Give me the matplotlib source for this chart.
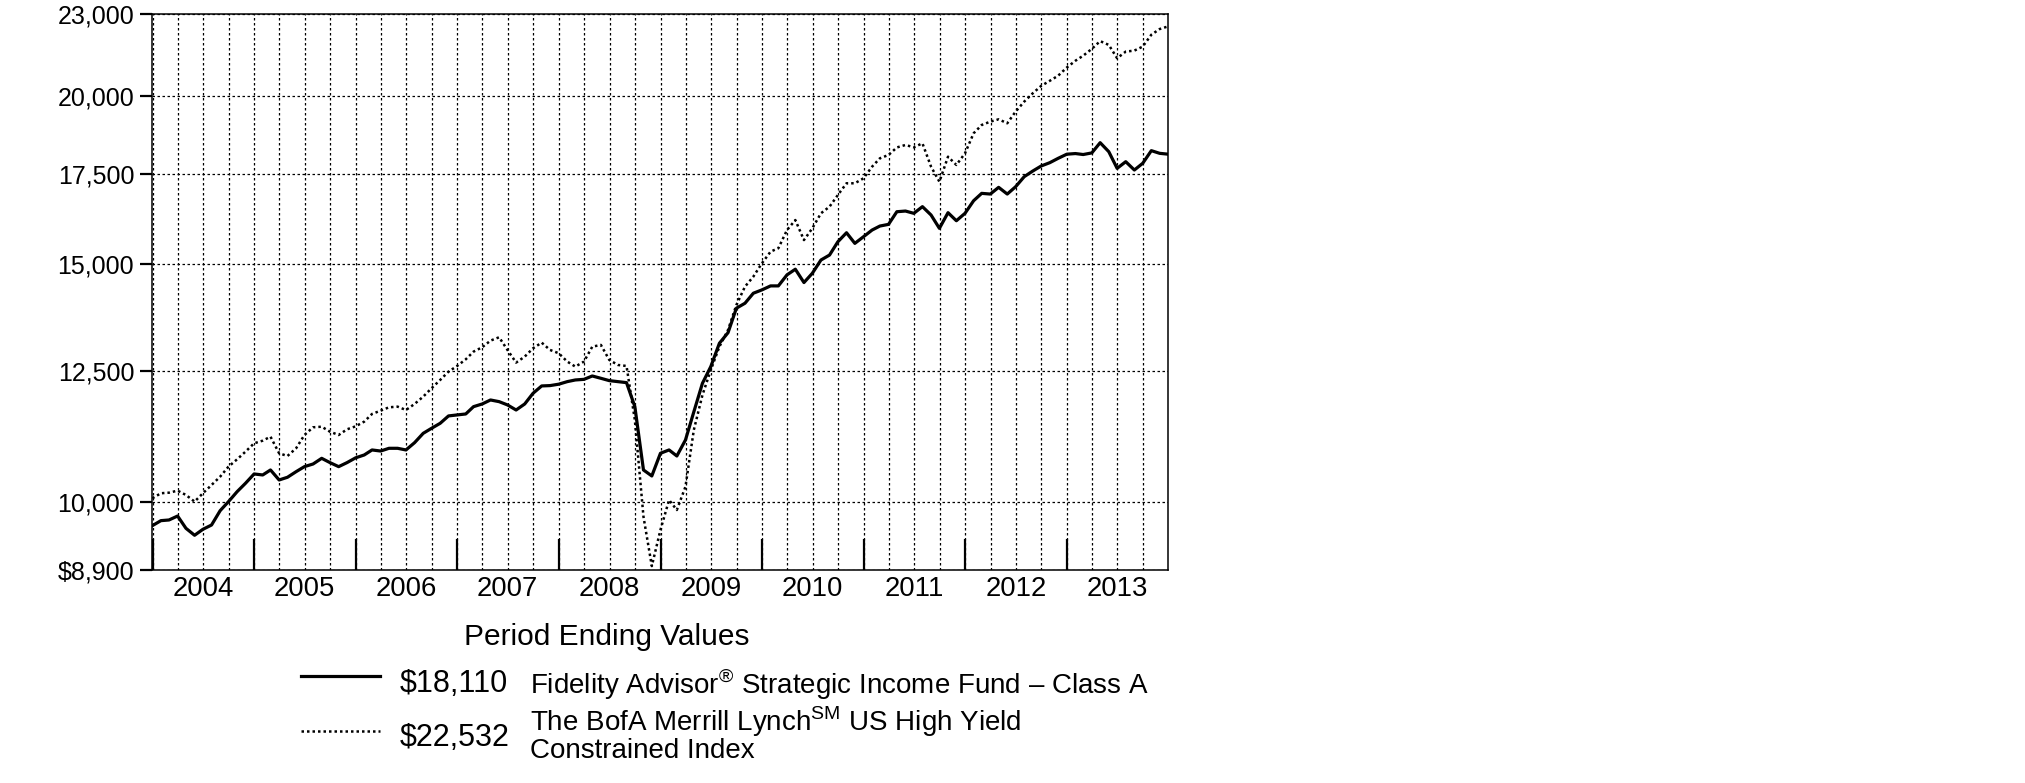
import matplotlib
matplotlib.use("Agg")
import matplotlib.pyplot as plt
import matplotlib.dates as mdates
from matplotlib.ticker import FixedLocator, FixedFormatter, NullLocator
from matplotlib.lines import Line2D
import pandas as pd
from datetime import datetime

plt.rcParams["font.family"] = ["Liberation Sans", "DejaVu Sans"]
plt.rcParams["mathtext.fontset"] = "custom"
plt.rcParams["mathtext.rm"] = "Liberation Sans"

# month-end values, Dec 2003 .. Dec 2013
fund = [9600, 9683, 9694, 9760, 9557, 9444, 9541, 9611, 9850, 10003, 10175, 10321,
        10487, 10469, 10559, 10380, 10428, 10528, 10619, 10667, 10771, 10692, 10619, 10692,
        10780, 10833, 10926, 10906, 10957, 10957, 10926, 11063, 11241, 11338, 11435, 11580,
        11600, 11619, 11765, 11819, 11900, 11866, 11800, 11698, 11819, 12037, 12189, 12196,
        12225, 12279, 12314, 12327, 12398, 12349, 12300, 12279, 12258, 11765, 10559, 10451,
        10864, 10926, 10814, 11114, 11660, 12244, 12598, 13111, 13350, 13920, 14039, 14281,
        14363, 14461, 14461, 14736, 14879, 14544, 14775, 15114, 15244, 15594, 15836, 15551,
        15728, 15909, 16018, 16064, 16415, 16434, 16370, 16558, 16323, 15955, 16388, 16164,
        16370, 16726, 16938, 16918, 17113, 16918, 17131, 17428, 17598, 17749, 17850, 17983,
        18110, 18130, 18100, 18150, 18470, 18188, 17678, 17880, 17627, 17831, 18220, 18137,
        18110]
index = [10060, 10147, 10157, 10192, 10117, 10003, 10147, 10291, 10439, 10619, 10753, 10894,
         11051, 11101, 11177, 10864, 10814, 10957, 11209, 11357, 11369, 11272, 11209, 11318,
         11376, 11468, 11619, 11685, 11752, 11765, 11698, 11819, 11968, 12141, 12314, 12490,
         12612, 12756, 12925, 13021, 13170, 13246, 12962, 12685, 12815, 12999, 13125, 12962,
         12890, 12707, 12598, 12707, 13035, 13073, 12743, 12634, 12612, 11500, 9749, 8960,
         9530, 10031, 9861, 10262, 11305, 12000, 12526, 13035, 13413, 13997, 14443, 14692,
         15032, 15333, 15422, 15909, 16183, 15639, 15955, 16370, 16558, 16891, 17232, 17232,
         17379, 17728, 17983, 18086, 18320, 18398, 18325, 18450, 17728, 17279, 18033, 17780,
         18137, 18768, 19037, 19146, 19222, 19093, 19477, 19813, 20099, 20352, 20530, 20710,
         21000, 21245, 21430, 21680, 21970, 21828, 21337, 21580, 21617, 21765, 22211, 22428,
         22532]
dates = pd.date_range("2003-12-31", periods=len(fund), freq="ME")

years = list(range(2004, 2014))
yticks = [8900, 10000, 12500, 15000, 17500, 20000, 23000]
ylabels = ["$8,900", "10,000", "12,500", "15,000", "17,500", "20,000", "23,000"]

fund_label = r"Fidelity Advisor$^{\mathrm{®}}$ Strategic Income Fund – Class A"
index_label = "The BofA Merrill Lynch$^{\\mathrm{SM}}$ US High Yield\nConstrained Index"
fund_end = "$18,110"
index_end = "$22,532"

W, H = 2025, 783
fig = plt.figure(figsize=(W / 100, H / 100), dpi=100)
ax = fig.add_axes([152.3 / W, 1 - 570 / H, (1168.3 - 152.3) / W, (570 - 14.3) / H])

ax.plot(dates, fund, color="black", lw=2.3, solid_joinstyle="round")
ax.plot(dates, index, color="black", lw=1.8, linestyle=(0, (1, 1.2)))

ax.set_yscale("log")
ax.set_ylim(8900, 23000)
ax.yaxis.set_major_locator(FixedLocator(yticks))
ax.yaxis.set_major_formatter(FixedFormatter(ylabels))
ax.yaxis.set_minor_locator(NullLocator())
ax.tick_params(axis="y", direction="out", length=9, width=1.6, labelsize=18, pad=4)

ax.set_xlim(datetime(2003, 12, 31), datetime(2013, 12, 31))
ax.xaxis.set_major_locator(mdates.YearLocator(1, month=1, day=1))
ax.xaxis.set_minor_locator(mdates.MonthLocator(bymonth=[1, 4, 7, 10]))
ax.tick_params(axis="x", which="major", direction="in", length=22, width=1.6, labelbottom=False)
ax.tick_params(axis="x", which="minor", length=0, labelbottom=False)

ax.set_axisbelow(True)
ax.grid(True, axis="x", which="both", color="black", lw=0.9, linestyle=(0, (2, 2)))
ax.grid(True, axis="y", which="major", color="black", lw=0.9, linestyle=(0, (2, 2)))
for s in ax.spines.values():
    s.set_linewidth(1.1)

for y in years:
    ax.text(datetime(y, 7, 1), -0.034, str(y), transform=ax.get_xaxis_transform(),
            ha="center", va="center", fontsize=19.8)

# legend block
fig.text(607 / W, 1 - 637 / H, "Period Ending Values", ha="center", va="center", fontsize=21.5)
fig.add_artist(Line2D([301 / W, 380 / W], [1 - 676 / H] * 2, color="black", lw=2.3))
fig.add_artist(Line2D([301 / W, 380 / W], [1 - 731 / H] * 2, color="black", lw=1.8,
                      linestyle=(0, (1, 1.2))))
fig.text(400 / W, 1 - 684 / H, fund_end, ha="left", va="center", fontsize=22)
fig.text(400 / W, 1 - 738 / H, index_end, ha="left", va="center", fontsize=22)
fig.text(530 / W, 1 - 684 / H, fund_label, ha="left", va="center", fontsize=20)
fig.text(530 / W, 1 - 734 / H, index_label, ha="left", va="center", fontsize=20,
         linespacing=0.95)

fig.savefig("out.png", dpi=100, facecolor="white")
